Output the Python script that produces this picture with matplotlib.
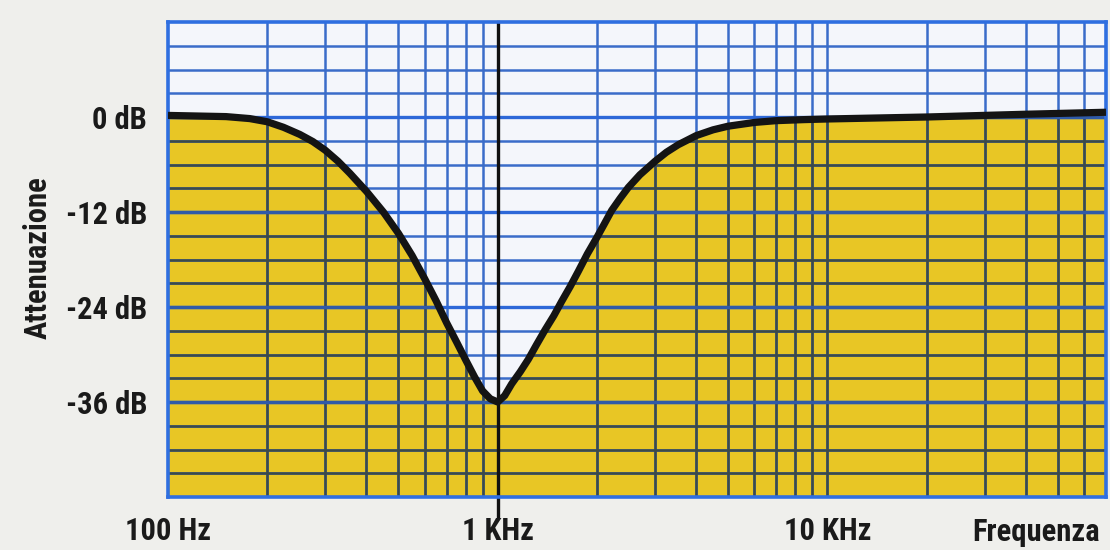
import matplotlib
matplotlib.use("Agg")
import matplotlib.pyplot as plt
from matplotlib import font_manager

# ---- data ----
freq_hz = [100, 150, 177, 200, 224, 251, 275, 300, 328, 356, 400, 450, 500, 550,
           600, 650, 700, 750, 800, 850, 900, 950, 1000, 1050, 1103, 1170, 1239,
           1310, 1392, 1480, 1563, 1660, 1756, 1870, 2000, 2100, 2217, 2350, 2490,
           2700, 3000, 3250, 3530, 4000, 4500, 5000, 6000, 7000, 8500, 10000,
           20000, 40000, 70000]
atten_db = [0.2, 0.05, -0.2, -0.6, -1.3, -2.2, -3.1, -4.2, -5.6, -7.1, -9.4, -12.0, -14.7, -17.5,
            -20.4, -23.2, -26.0, -28.4, -30.7, -32.8, -34.6, -35.6, -36.0, -35.2, -33.7, -32.2, -30.6,
            -28.8, -26.9, -25.1, -23.3, -21.4, -19.5, -17.3, -15.2, -13.6, -11.8, -10.3, -8.9,
            -7.3, -5.6, -4.45, -3.5, -2.35, -1.62, -1.16, -0.69, -0.46, -0.33, -0.25,
            0.0, 0.35, 0.6]
x_tick_vals = [100, 1000, 10000]
x_tick_labels = ["100 Hz", "1 KHz", "10 KHz"]
y_tick_vals = [0, -12, -24, -36]
y_tick_labels = ["0 dB", "-12 dB", "-24 dB", "-36 dB"]
x_label = "Frequenza"
y_label = "Attenuazione"

# ---- fonts ----
avail = {f.name for f in font_manager.fontManager.ttflist}
fam = ["Liberation Sans Narrow", "Roboto Condensed", "DejaVu Sans"]
fam = [f for f in fam if f in avail] or ["DejaVu Sans"]
plt.rcParams["font.family"] = fam

W, H = 1110, 550
fig = plt.figure(figsize=(W / 100, H / 100), dpi=100)
fig.patch.set_facecolor("#efefec")
L, R, T, B = 168, 1106, 22, 497
ax = fig.add_axes([L / W, 1 - B / H, (R - L) / W, (B - T) / H])
ax.set_facecolor("#f4f6fb")
ax.set_xscale("log")
ax.set_xlim(100, 70000)
ax.set_ylim(-48, 12)

yellow = "#e8c625"
fill = ax.fill_between(freq_hz, atten_db, -48, color=yellow, lw=0, zorder=1)
clip_path = fill.get_paths()[0]
clip_tr = fill.get_transform()

# grid: vertical at 1..9 x decade, horizontal every 3 dB
vgrid = [m * d for d in (100, 1000, 10000) for m in range(1, 10) if m * d < 70000]
hgrid = list(range(-45, 12, 3))
blue = "#3a6cc9"
dark = "#3c4a48"
for v in vgrid:
    if v in (100, 1000):
        continue
    ax.axvline(v, color=blue, lw=1.8, zorder=2)
    ln = ax.axvline(v, color=dark, lw=1.8, zorder=2.5)
    ln.set_clip_path(clip_path, clip_tr)
for h in hgrid:
    major = h % 12 == 0
    ax.axhline(h, color="#2d68d8" if major else blue, lw=2.4 if major else 1.8, zorder=2)
    ln = ax.axhline(h, color="#2f5aa8" if major else dark, lw=2.4 if major else 1.8, zorder=2.5)
    ln.set_clip_path(clip_path, clip_tr)

# 1 kHz black marker line extending below the frame
ax.axvline(1000, ymin=-0.04, ymax=1, color="#111111", lw=2.4, zorder=3, clip_on=False)

# curve
ax.plot(freq_hz, atten_db, color="#141414", lw=5.2, solid_joinstyle="round",
        solid_capstyle="butt", zorder=4)

for s in ax.spines.values():
    s.set_color("#2f6fe0")
    s.set_linewidth(2.6)
    s.set_zorder(3.5)

ax.minorticks_off()
ax.set_xticks(x_tick_vals)
ax.set_xticklabels(x_tick_labels)
ax.set_yticks(y_tick_vals)
ax.set_yticklabels(y_tick_labels)
ax.tick_params(axis="both", length=0, labelsize=22, colors="#1a1a1a")
ax.tick_params(axis="x", pad=14)
ax.tick_params(axis="y", pad=15)
for t in ax.get_xticklabels() + ax.get_yticklabels():
    t.set_fontweight("bold")

fig.text(1100 / W, 1 - 532 / H, x_label, ha="right", va="center",
         fontsize=22, fontweight="bold", color="#1a1a1a")
fig.text(38 / W, 1 - 258 / H, y_label, ha="center", va="center", rotation=90,
         fontsize=22, fontweight="bold", color="#1a1a1a")

fig.savefig("out.png", dpi=100, facecolor=fig.get_facecolor())
